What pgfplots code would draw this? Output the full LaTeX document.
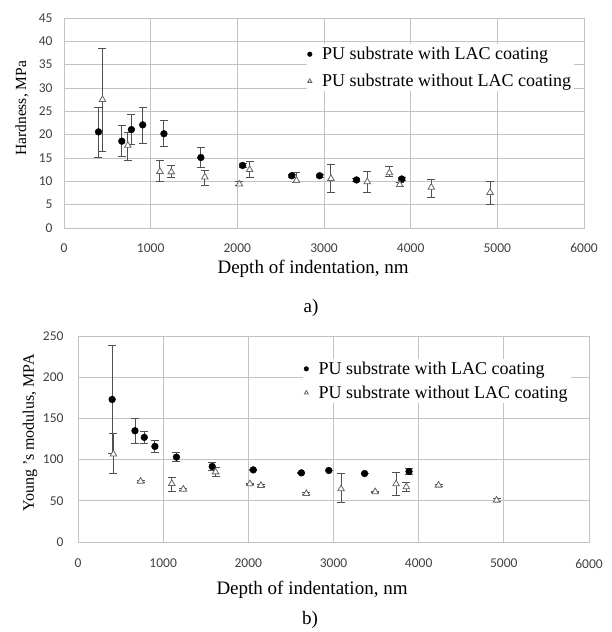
\documentclass[border=0pt]{standalone}
\usepackage{fontspec}
\setmainfont{Liberation Serif}
\newfontfamily\carlito{Carlito}
\usepackage{pgfplots}
\usepackage{pgfplotstable}
\pgfplotsset{compat=1.18}

\pgfplotstableread{
x y ep em
398 20.6 5.3 5.4
667 18.6 3.3 3.2
778 21.1 3.2 3.2
908 22.1 3.8 4.0
1153 20.2 2.9 2.8
1579 15.1 2.1 2.2
2061 13.4 0.5 0.5
2628 11.2 0.3 0.3
2950 11.2 0.3 0.3
3375 10.3 0.3 0.3
3897 10.5 0.4 0.4
}\hwith
\pgfplotstableread{
x y ep em
444 27.5 11.0 11.2
736 17.7 2.8 3.2
1107 12.1 2.4 2.2
1238 12.0 1.4 1.1
1625 10.9 1.5 1.7
2023 9.4 0.5 0.3
2142 12.5 1.7 1.6
2682 10.2 1.6 0.4
3080 10.6 3.0 3.0
3499 9.9 2.2 2.3
3755 11.8 1.3 0.7
3874 9.3 0.4 0.4
4238 8.7 1.6 2.1
4916 7.6 2.3 2.5
}\hwithout
\pgfplotstableread{
x y ep em
401 173 65 65
669 135 15 15
778 127 7 7.5
903 116 7.6 7
1156 103 6 5
1576 91.6 4.4 4.6
2058 87.5 1 1
2623 83.9 0.5 0.5
2945 86.8 0.5 0.5
3365 83.1 0.5 0.5
3887 85.6 4 4
}\ewith
\pgfplotstableread{
x y ep em
416 106.6 25 23.6
735 73.7 1 1
1101 70.9 8 9
1237 64 1 1
1615 85 6 6
2019 70.5 1 1
2148 68.5 1 1
2681 58.7 1 1
3089 64.4 18.3 16.1
3490 60.8 1 1
3735 70.5 13.4 14.1
3855 66.9 5 5
4233 68.9 1 1
4914 50.7 2 2
}\ewithout

\definecolor{gridc}{RGB}{195,195,195}
\definecolor{errc}{RGB}{80,80,80}
\definecolor{tric}{RGB}{100,100,100}

\pgfplotsset{
  myaxis/.style={
    scale only axis,
    xmin=0, xmax=6000,
    xtick={0,1000,...,6000},
    grid=major,
    major grid style={gridc, line width=0.8pt},
    axis line style={gridc, line width=0.8pt},
    major tick length=0pt,
    /pgf/number format/assume math mode=true,
    /pgf/number format/1000 sep={},
    ticklabel style={font=\carlito\fontsize{13.5}{15}\selectfont, text=black!75},
    legend style={draw=none, fill=white, anchor=north west,
      font=\fontsize{18}{20}\selectfont, cells={anchor=west},
      inner sep=1pt,
      /tikz/every odd column/.append style={column sep=8pt}},
    legend image post style={mark size=2.3pt},
  },
  withst/.style={only marks, mark=*, mark size=3.4pt, mark options={fill=black, draw=black},
    error bars/.cd, y dir=both, y explicit,
    error bar style={errc, line width=0.9pt},
    error mark options={errc, rotate=90, mark size=4pt, line width=0.9pt}},
  withoutst/.style={only marks, mark=triangle*, mark size=3.8pt,
    mark options={fill=white, draw=tric, line width=0.8pt},
    error bars/.cd, y dir=both, y explicit,
    error bar style={errc, line width=0.9pt},
    error mark options={errc, rotate=90, mark size=4pt, line width=0.9pt}},
}

\begin{document}
\begin{tikzpicture}
\path[use as bounding box] (0pt,0pt) rectangle (612pt,632pt);

\begin{axis}[myaxis,
  at={(64pt,404pt)}, anchor=south west,
  width=520pt, height=210pt,
  ymin=0, ymax=45, ytick={0,5,...,45},
  xticklabel style={yshift=-12pt},
  yticklabel style={xshift=-8pt},
  xlabel={\fontsize{19}{21}\selectfont Depth of indentation, nm},
  ylabel={\fontsize{15.5}{17}\selectfont Hardness, MPa},
  x label style={at={(axis description cs:0.479,-0.195)}, anchor=center},
  y label style={at={(axis description cs:-0.081,0.57)}, anchor=center},
  legend style={at={(axis description cs:0.466,0.876)}, row sep=9pt},
]
\addplot[withst] table[x=x, y=y, y error plus=ep, y error minus=em] {\hwith};
\addlegendentry{PU substrate with LAC coating}
\addplot[withoutst] table[x=x, y=y, y error plus=ep, y error minus=em] {\hwithout};
\addlegendentry{PU substrate without LAC coating}
\end{axis}

\begin{axis}[myaxis,
  at={(78pt,90pt)}, anchor=south west,
  width=511pt, height=206pt,
  ymin=0, ymax=250, ytick={0,50,...,250},
  xticklabel style={yshift=-13.5pt},
  yticklabel style={xshift=-11pt},
  xlabel={\fontsize{19}{21}\selectfont Depth of indentation, nm},
  ylabel={\fontsize{16}{18}\selectfont Young 's modulus, MPA},
  x label style={at={(axis description cs:0.458,-0.233)}, anchor=center},
  y label style={at={(axis description cs:-0.094,0.53)}, anchor=center},
  legend style={at={(axis description cs:0.440,0.89)}, row sep=6pt},
]
\addplot[withst] table[x=x, y=y, y error plus=ep, y error minus=em] {\ewith};
\addlegendentry{PU substrate with LAC coating}
\addplot[withoutst] table[x=x, y=y, y error plus=ep, y error minus=em] {\ewithout};
\addlegendentry{PU substrate without LAC coating}
\end{axis}

\node[font=\fontsize{19}{21}\selectfont] at (311pt,324pt) {a)};
\node[font=\fontsize{19}{21}\selectfont] at (310pt,12pt) {b)};
\end{tikzpicture}
\end{document}
